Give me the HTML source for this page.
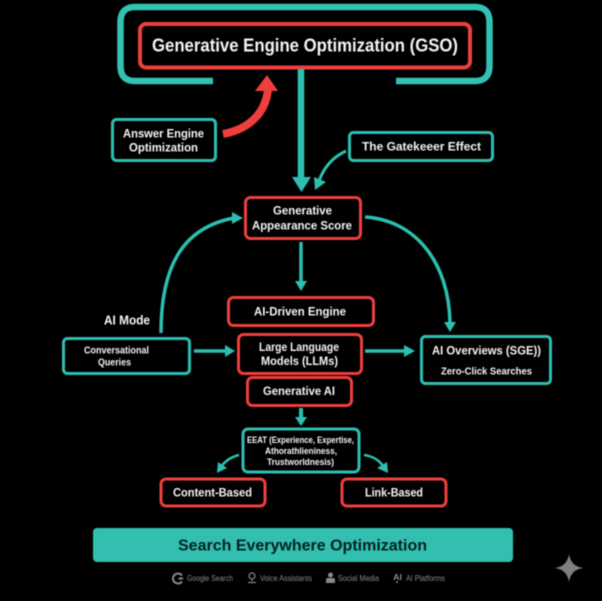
<!DOCTYPE html>
<html><head><meta charset="utf-8"><style>
html,body{margin:0;padding:0;background:#000;width:602px;height:601px;overflow:hidden}
svg{display:block;filter:blur(.45px)}
text{font-family:"Liberation Sans",sans-serif;fill:#f4f4f4;font-weight:700}
.r{fill:#000;stroke:#ef3e3e;stroke-width:3}
.t{fill:#000;stroke:#2cbfb1;stroke-width:3}
.l{fill:none;stroke:#2cbfb1}
.h{fill:#2cbfb1}
.f{fill:#8a8a8a;font-weight:400;font-size:8px}
</style></head><body>
<svg width="602" height="601" viewBox="0 0 602 601" xmlns="http://www.w3.org/2000/svg">
<rect width="602" height="601" fill="#000"/>
<path d="M213 81H135Q120.500 81 120.500 66V22Q120.500 7 135 7H475Q489.500 7 489.500 22V66Q489.500 81 475 81H396" fill="none" stroke="#33c1b3" stroke-width="6.500"/>
<rect x="140" y="24" width="330" height="43.500" rx="6" fill="#000" stroke="#ef3e3e" stroke-width="4"/>
<text x="152" y="51.500" font-size="18" textLength="306" lengthAdjust="spacingAndGlyphs">Generative Engine Optimization (GSO)</text>

<path d="M223 134C250 129 266 112 268 89" fill="none" stroke="#ef3e3e" stroke-width="8"/>
<path d="M267 75L278 91H255Z" fill="#ef3e3e"/>
<rect class="t" x="112.500" y="119.500" width="103" height="41" rx="4"/>
<text x="123" y="137.500" font-size="12" textLength="81" lengthAdjust="spacingAndGlyphs">Answer Engine</text>
<text x="129" y="151.500" font-size="12" textLength="69" lengthAdjust="spacingAndGlyphs">Optimization</text>

<path class="l" stroke-width="6.500" d="M301 69V178"/>
<path class="h" d="M292 177H311L301.500 192Z"/>
<rect class="t" x="349.500" y="132.500" width="143" height="28" rx="4"/>
<text x="362" y="150.500" font-size="12" textLength="119" lengthAdjust="spacingAndGlyphs">The Gatekeeer Effect</text>
<path class="l" stroke-width="3" d="M346 151C333 157 324 167 319 181"/>
<path class="h" d="M315 190L314 177L326 182Z"/>

<rect class="r" x="245.500" y="197.500" width="115" height="41" rx="5"/>
<text x="273" y="214.500" font-size="12" textLength="59" lengthAdjust="spacingAndGlyphs">Generative</text>
<text x="252" y="229.500" font-size="12" textLength="100" lengthAdjust="spacingAndGlyphs">Appearance Score</text>

<path class="l" stroke-width="3.500" d="M301 242V282"/>
<path class="h" d="M295 281H307L301 291Z"/>
<rect class="r" x="228.500" y="297.500" width="145" height="28" rx="5"/>
<text x="254" y="315.500" font-size="12" textLength="92" lengthAdjust="spacingAndGlyphs">AI-Driven Engine</text>

<path class="l" stroke-width="3.500" d="M161 333C161 270 180 228 234 218"/>
<path class="h" d="M243 218L232 212V224Z"/>
<path class="l" stroke-width="3.500" d="M365 217C415 220 449 262 450 323"/>
<path class="h" d="M450 332L444 322H456Z"/>
<text x="104" y="324.500" font-size="12.500" textLength="46" lengthAdjust="spacingAndGlyphs">AI Mode</text>

<rect class="t" x="63.500" y="338.500" width="126" height="35" rx="4"/>
<text x="84" y="353.500" font-size="10" textLength="65" lengthAdjust="spacingAndGlyphs">Conversational</text>
<text x="98" y="365.500" font-size="10" textLength="33" lengthAdjust="spacingAndGlyphs">Queries</text>
<path class="l" stroke-width="3.500" d="M194 351H226"/>
<path class="h" d="M235 351L225 345V357Z"/>

<rect class="r" x="238.500" y="334.500" width="123" height="39" rx="5"/>
<text x="259" y="351" font-size="11.500" textLength="80" lengthAdjust="spacingAndGlyphs">Large Language</text>
<text x="261" y="365" font-size="11.500" textLength="77" lengthAdjust="spacingAndGlyphs">Models (LLMs)</text>
<path class="l" stroke-width="3.500" d="M365 351H405"/>
<path class="h" d="M415 351L404 345V357Z"/>

<rect class="t" x="421.500" y="336.500" width="129" height="47" rx="4"/>
<text x="432" y="354.500" font-size="12" textLength="109" lengthAdjust="spacingAndGlyphs">AI Overviews (SGE))</text>
<text x="441" y="374.500" font-size="10" textLength="91" lengthAdjust="spacingAndGlyphs">Zero-Click Searches</text>

<rect class="r" x="247.500" y="377.500" width="104" height="28" rx="5"/>
<text x="263" y="395" font-size="12" textLength="72" lengthAdjust="spacingAndGlyphs">Generative AI</text>

<path class="l" stroke-width="4" d="M301 408V418"/>
<path class="h" d="M295 417H307L301 426Z"/>
<rect class="t" x="243" y="429" width="116" height="43" rx="5"/>
<text x="247" y="443" font-size="9" textLength="107" lengthAdjust="spacingAndGlyphs">EEAT (Experience, Expertise,</text>
<text x="265" y="454" font-size="9" textLength="72" lengthAdjust="spacingAndGlyphs">Athorathlieniness,</text>
<text x="267" y="465" font-size="9" textLength="67" lengthAdjust="spacingAndGlyphs">Trustworldnesis)</text>
<path class="l" stroke-width="2.500" d="M239 455C231 457 225 461 221 467"/>
<path class="h" d="M217 473L218 462L227 468Z"/>
<path class="l" stroke-width="2.500" d="M364 455C372 456 379 460 383 466"/>
<path class="h" d="M388 473L377 468L387 462Z"/>

<rect class="r" x="161" y="479" width="104" height="27" rx="5"/>
<text x="173" y="496.500" font-size="12" textLength="79" lengthAdjust="spacingAndGlyphs">Content-Based</text>
<rect class="r" x="342" y="479" width="104" height="27" rx="5"/>
<text x="365" y="496.500" font-size="12" textLength="58" lengthAdjust="spacingAndGlyphs">Link-Based</text>

<rect x="93" y="528" width="420" height="34" rx="4" fill="#33bfb0"/>
<text x="178" y="550.500" font-size="16" textLength="249" lengthAdjust="spacingAndGlyphs" style="fill:#04201f">Search Everywhere Optimization</text>

<path d="M182 575.500A5 5 0 1 0 182 581.500" fill="none" stroke="#8a8a8a" stroke-width="2"/>
<path d="M178.500 578.500H183" fill="none" stroke="#8a8a8a" stroke-width="2"/>
<text class="f" x="187" y="581" textLength="46" lengthAdjust="spacingAndGlyphs">Google Search</text>
<circle cx="252" cy="576" r="3" fill="none" stroke="#8a8a8a" stroke-width="1.200"/>
<path d="M252 579V581M248 582.500H256" stroke="#8a8a8a" stroke-width="1.200" fill="none"/>
<text class="f" x="260" y="581" textLength="52" lengthAdjust="spacingAndGlyphs">Voice Assistants</text>
<circle cx="330.500" cy="575" r="2.500" fill="#8a8a8a"/>
<path d="M326 583V580Q326 578 328 578H333Q335 578 335 580V583Z" fill="#8a8a8a"/>
<text class="f" x="338" y="581" textLength="41" lengthAdjust="spacingAndGlyphs">Social Media</text>
<text x="393" y="580" font-size="8" textLength="9" lengthAdjust="spacingAndGlyphs" style="fill:#8a8a8a">AI</text>
<circle cx="397" cy="582" r="1" fill="#8a8a8a"/>
<text class="f" x="406" y="581" textLength="39" lengthAdjust="spacingAndGlyphs">AI Platforms</text>

<path d="M569 554C570.500 562 574 566.500 583 568C574 569.500 570.500 574 569 582C567.500 574 564 569.500 555 568C564 566.500 567.500 562 569 554Z" fill="#808080"/>
</svg>
</body></html>
